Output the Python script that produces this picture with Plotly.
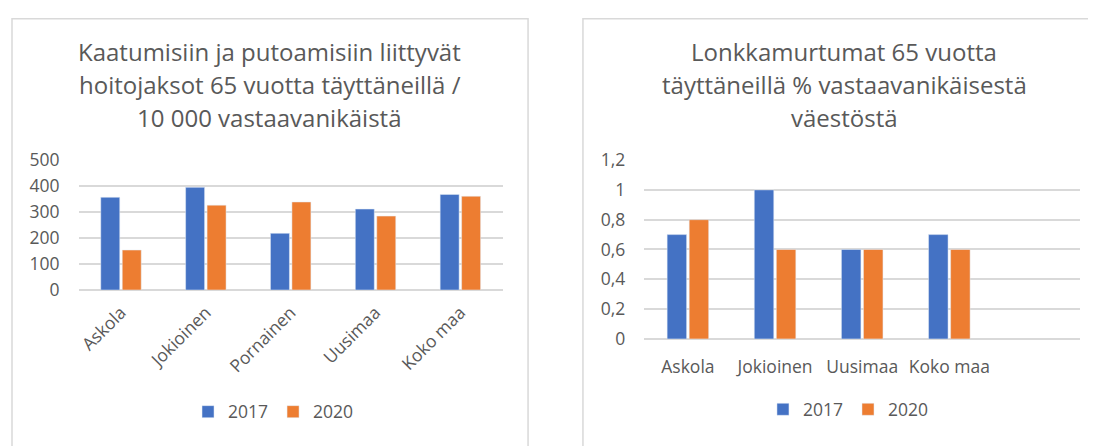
import plotly.graph_objects as go

W, H = 1096, 446
OFFSET = 8  # the page body margin shifts the figure by 8px

# ── Data ────────────────────────────────────────────────────────────────
falls_places = ["Askola", "Jokioinen", "Pornainen", "Uusimaa", "Koko maa"]
falls_2017 = [355, 393, 217, 310, 366]
falls_2020 = [153, 325, 337, 283, 359]

hip_places = ["Askola", "Jokioinen", "Uusimaa", "Koko maa"]
hip_2017 = [0.7, 1.0, 0.6, 0.7]
hip_2020 = [0.8, 0.6, 0.6, 0.6]

years = ["2017", "2020"]

left_title = ["Kaatumisiin ja putoamisiin liittyvät",
              "hoitojaksot 65 vuotta täyttäneillä /",
              "10 000 vastaavanikäistä"]
right_title = ["Lonkkamurtumat 65 vuotta",
               "täyttäneillä % vastaavanikäisestä",
               "väestöstä"]

COLORS = {
    "blue": "#4472C4",
    "orange": "#ED7D31",
    "text": "#595959",
    "grid": "#D9D9D9",
}
FONT = "Open Sans"


def px_x(x):
    return (x - OFFSET) / W


def px_y(y):
    return 1 - (y - OFFSET) / H


fig = go.Figure()

# ── Left chart ──────────────────────────────────────────────────────────
for name, vals, col in zip(years, [falls_2017, falls_2020], [COLORS["blue"], COLORS["orange"]]):
    fig.add_trace(go.Bar(
        x=falls_places, y=vals, name=name, marker_color=col,
        xaxis="x", yaxis="y", legend="legend",
    ))

# ── Right chart ─────────────────────────────────────────────────────────
for name, vals, col in zip(years, [hip_2017, hip_2020], [COLORS["blue"], COLORS["orange"]]):
    fig.add_trace(go.Bar(
        x=hip_places, y=vals, name=name, marker_color=col,
        xaxis="x2", yaxis="y2", legend="legend2",
    ))

tick_font = dict(family=FONT, size=17.5, color=COLORS["text"])

fig.update_layout(
    width=W, height=H, autosize=False,
    margin=dict(l=0, r=0, t=0, b=0),
    paper_bgcolor="white", plot_bgcolor="white",
    font=dict(family=FONT, color=COLORS["text"]),
    separators=", ",
    barmode="group", bargap=0.494, bargroupgap=0.116,
    xaxis=dict(
        domain=[px_x(76.7), px_x(501.7)],
        anchor="y", tickangle=-45, tickfont=tick_font,
        showgrid=False, zeroline=False, showline=False,
        ticklabelstandoff=8,
    ),
    yaxis=dict(
        domain=[px_y(292.3), px_y(154.3)],
        anchor="x", range=[0, 500], dtick=100,
        gridcolor=COLORS["grid"], gridwidth=1.5,
        zeroline=True, zerolinecolor=COLORS["grid"], zerolinewidth=1.5,
        showline=False, tickfont=tick_font, ticklabelstandoff=18,
    ),
    xaxis2=dict(
        domain=[px_x(643.5), px_x(1080)],
        anchor="y2", tickfont=tick_font,
        categoryorder="array", categoryarray=hip_places + [" "],
        range=[-0.5, 4.5],
        showgrid=False, zeroline=False, showline=False,
        ticklabelstandoff=16,
    ),
    yaxis2=dict(
        domain=[px_y(344), px_y(155)],
        anchor="x2", range=[0, 1.2], dtick=0.2,
        gridcolor=COLORS["grid"], gridwidth=1.5,
        zeroline=True, zerolinecolor=COLORS["grid"], zerolinewidth=1.5,
        showline=False, tickfont=tick_font, ticklabelstandoff=18,
    ),
    legend=dict(
        orientation="h", x=px_x(272), y=px_y(421),
        xanchor="center", yanchor="middle",
        font=dict(family=FONT, size=17.5, color=COLORS["text"]),
        bgcolor="rgba(0,0,0,0)",
    ),
    legend2=dict(
        orientation="h", x=px_x(848), y=px_y(418.5),
        xanchor="center", yanchor="middle",
        font=dict(family=FONT, size=17.5, color=COLORS["text"]),
        bgcolor="rgba(0,0,0,0)",
    ),
    showlegend=True,
)

# chart frames
fig.add_shape(type="rect", xref="paper", yref="paper",
              x0=px_x(10), x1=px_x(527), y0=-0.05, y1=px_y(5.5),
              line=dict(color=COLORS["grid"], width=1.5))
fig.add_shape(type="rect", xref="paper", yref="paper",
              x0=px_x(582), x1=1.05, y0=-0.05, y1=px_y(5.5),
              line=dict(color=COLORS["grid"], width=1.5))

# titles, one annotation per line
for lines, cx, ys in [(left_title, 268, [40, 75.5, 110]), (right_title, 844, [40, 75.5, 110])]:
    for line, yy in zip(lines, ys):
        fig.add_annotation(
            text=line, x=px_x(cx), y=px_y(yy), xref="paper", yref="paper",
            xanchor="center", yanchor="middle", showarrow=False,
            font=dict(family=FONT, size=24, color=COLORS["text"]),
        )

fig.write_html("out.html")
